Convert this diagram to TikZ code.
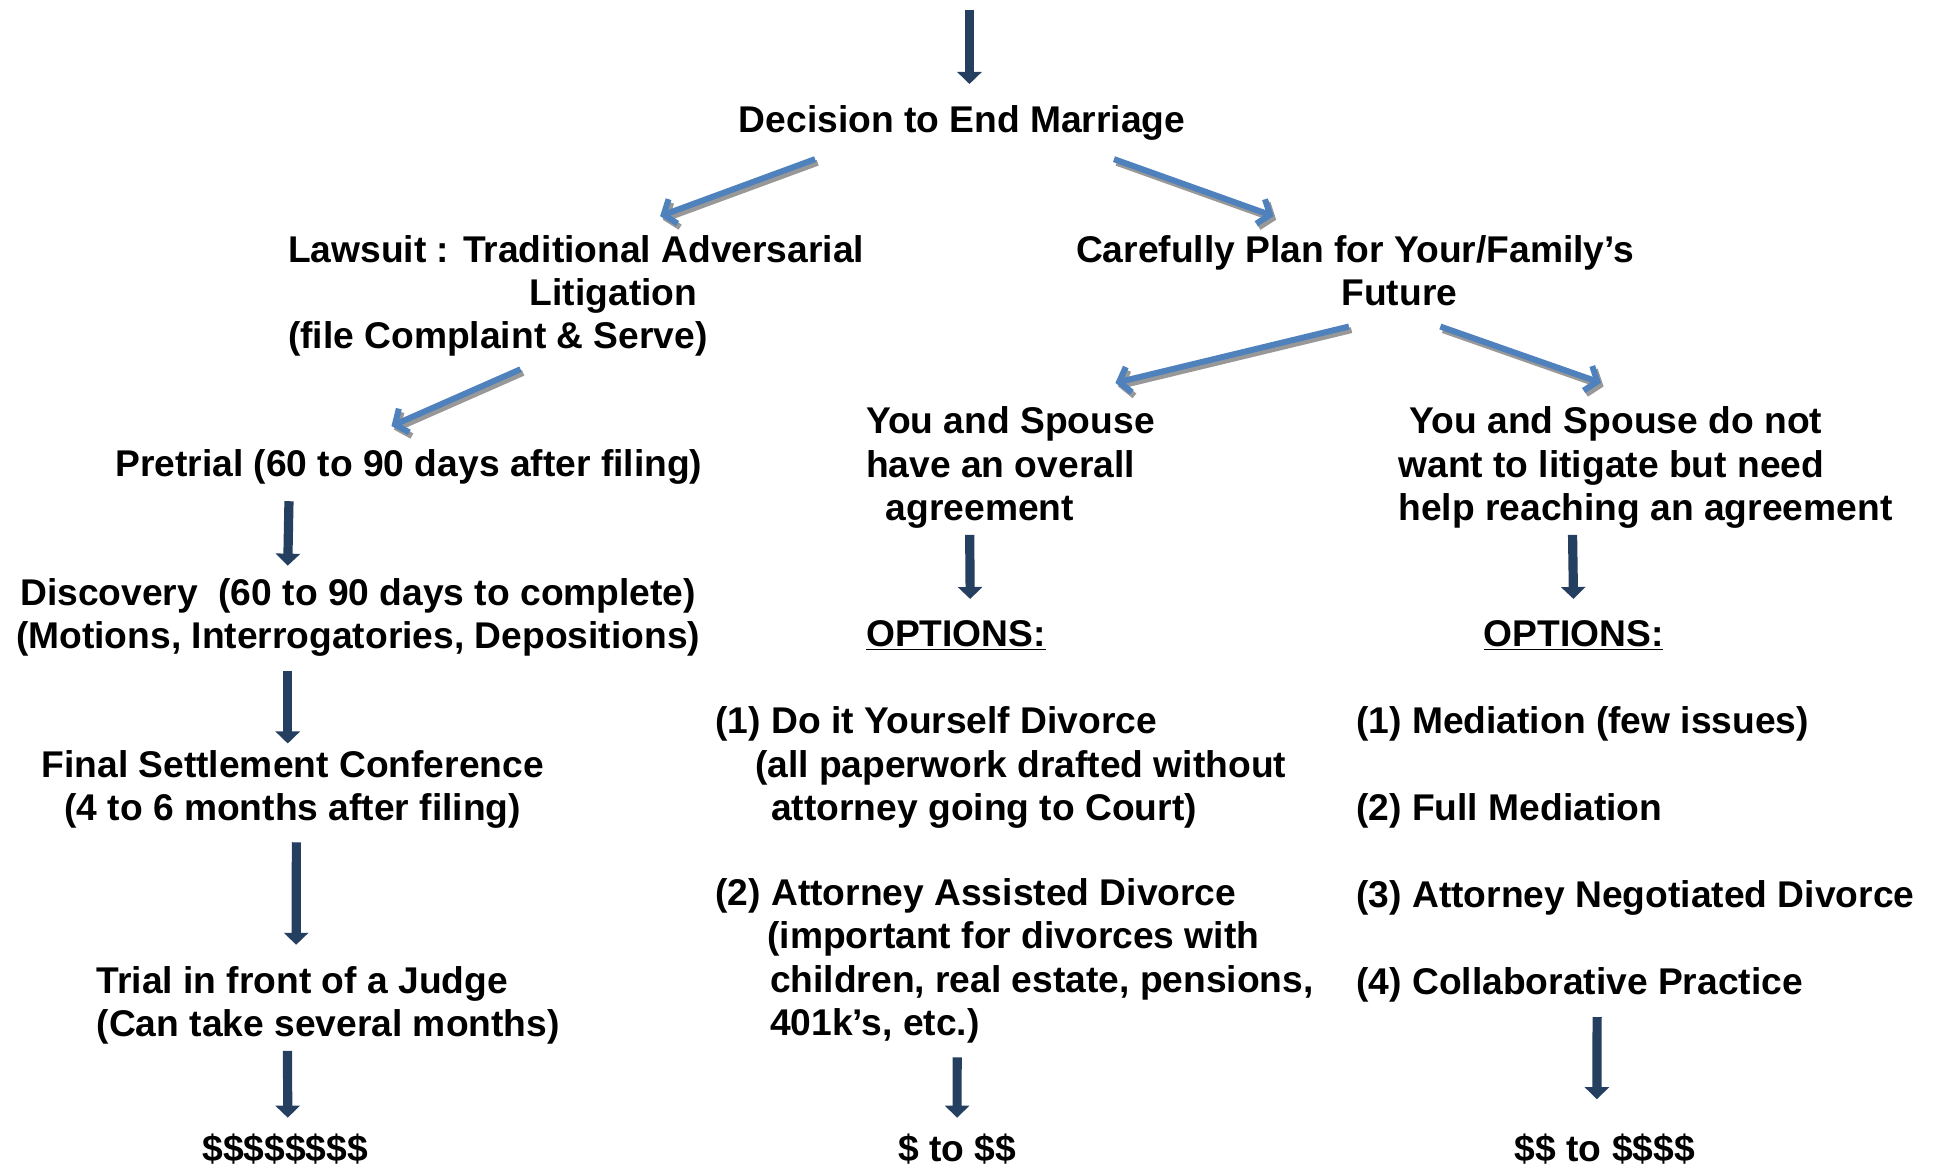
\documentclass[tikz,border=0pt]{standalone}
\usepackage{fontspec}
\setmainfont{Liberation Sans}
\usetikzlibrary{arrows.meta,calc}
\definecolor{navy}{HTML}{243F60}
\definecolor{steel}{HTML}{4F81BD}
\definecolor{shade}{HTML}{989898}

\begin{document}
\begin{tikzpicture}[x=0.6176pt,y=-0.6176pt]
\tikzstyle{every node}+=[inner sep=0pt, font=\bfseries\fontsize{18.6pt}{21.7pt}\selectfont]
\tikzstyle{down}=[draw=navy, line width=4.6pt, -{Triangle[width=12pt,length=6pt]}]
\tikzstyle{branch}=[draw=steel, line width=3pt, -{Straight Barb[width=13pt,length=5pt]},
  preaction={draw=shade, line width=3pt, -{Straight Barb[width=13pt,length=5pt]}, transform canvas={shift={(1.3pt,-1.8pt)}}}]
\useasboundingbox (0,0) rectangle (1566,943);
\coordinate (top) at (785,8);
\node (dec) at (779,85) [anchor=north] {Decision to End Marriage};
\node (law) at (233,190) [anchor=north west, align=left] {Lawsuit : Traditional Adversarial\\\hspace*{120.9pt}Litigation\\(file Complaint \& Serve)};
\node (plan) at (871,190) [anchor=north west, align=left] {Carefully Plan for Your/Family’s\\\hspace*{132.7pt}Future};
% left column
\node (pre) at (93,364) [anchor=north west] {Pretrial (60 to 90 days after filing)};
\node (disc) at (290,468) [anchor=north, align=center] {Discovery\ \ (60 to 90 days to complete)\\(Motions, Interrogatories, Depositions)};
\node (fsc) at (237,607) [anchor=north, align=center] {Final Settlement Conference\\(4 to 6 months after filing)};
\node (trial) at (78,782) [anchor=north west, align=left] {Trial in front of a Judge\\(Can take several months)};
\node (cost1) at (231,918) [anchor=north] {\$\$\$\$\$\$\$\$};
% middle column
\node (agree) at (701,329) [anchor=north west, align=left] {You and Spouse\\have an overall\\\hspace*{9.9pt}agreement};
\node (opt1) at (701,502) [anchor=north west] {\underline{OPTIONS:}};
\node (dyi) at (579,572) [anchor=north west, align=left] {(1) Do it Yourself Divorce\\\hspace*{19.8pt}(all paperwork drafted without\\\hspace*{27.9pt}attorney going to Court)};
\node (assist) at (579,711) [anchor=north west, align=left] {(2) Attorney Assisted Divorce\\\hspace*{26pt}(important for divorces with\\\hspace*{27.3pt}children, real estate, pensions,\\\hspace*{27.3pt}401k’s, etc.)};
\node (cost2) at (775,918) [anchor=north] {\$ to \$\$};
% right column
\node (noagree) at (1132,329) [anchor=north west, align=left] {\hspace*{5.6pt}You and Spouse do not\\want to litigate but need\\help reaching an agreement};
\node (opt2) at (1201,502) [anchor=north west] {\underline{OPTIONS:}};
\node (med) at (1098,572) [anchor=north west, align=left] {(1) Mediation (few issues)\\[21.7pt](2) Full Mediation\\[21.7pt](3) Attorney Negotiated Divorce\\[21.7pt](4) Collaborative Practice};
\node (cost3) at (1299.5,918) [anchor=north] {\$\$ to \$\$\$\$};
% arrows
\draw [down] (top) -- ($(dec.north)+(6,-17)$);
\draw [branch] ($(dec.south)+(-119,15)$) -- ($(law.north)+(68,-15)$);
\draw [branch] ($(dec.south)+(123,15)$) -- ($(plan.north)+(-66,-15)$);
\draw [branch] ($(law.south)+(-45,10)$) -- ($(pre.north)+(-14,-19)$);
\draw [branch] ($(plan.south)+(-5,16.5)$) -- ($(agree.north)+(85,-19)$);
\draw [branch] ($(plan.south)+(69,16.5)$) -- ($(noagree.north)+(-36,-19)$);
\draw [down] ($(pre.south)+(-97,13)$) -- ($(disc.north)+(-57,-10)$);
\draw [down] ($(disc.south)+(-57,11)$) -- ($(fsc.north)+(-4,-5)$);
\draw [down] ($(fsc.south)+(3,11)$) -- ($(trial.north)+(-26,-17)$);
\draw [down] ($(trial.south)+(-33,5)$) -- ($(cost1.north)+(2,-13)$);
\draw [down] ($(agree.south)+(-33,5)$) -- ($(opt1.north)+(11.5,-17)$);
\draw [down] ($(noagree.south)+(-59,5)$) -- ($(opt2.north)+(0,-17)$);
\draw [down] ($(assist.south)+(-46.5,11)$) -- ($(cost2.north)+(0,-13)$);
\draw [down] ($(med.south)+(-31,12)$) -- ($(cost3.north)+(-6.5,-28)$);
\end{tikzpicture}
\end{document}
